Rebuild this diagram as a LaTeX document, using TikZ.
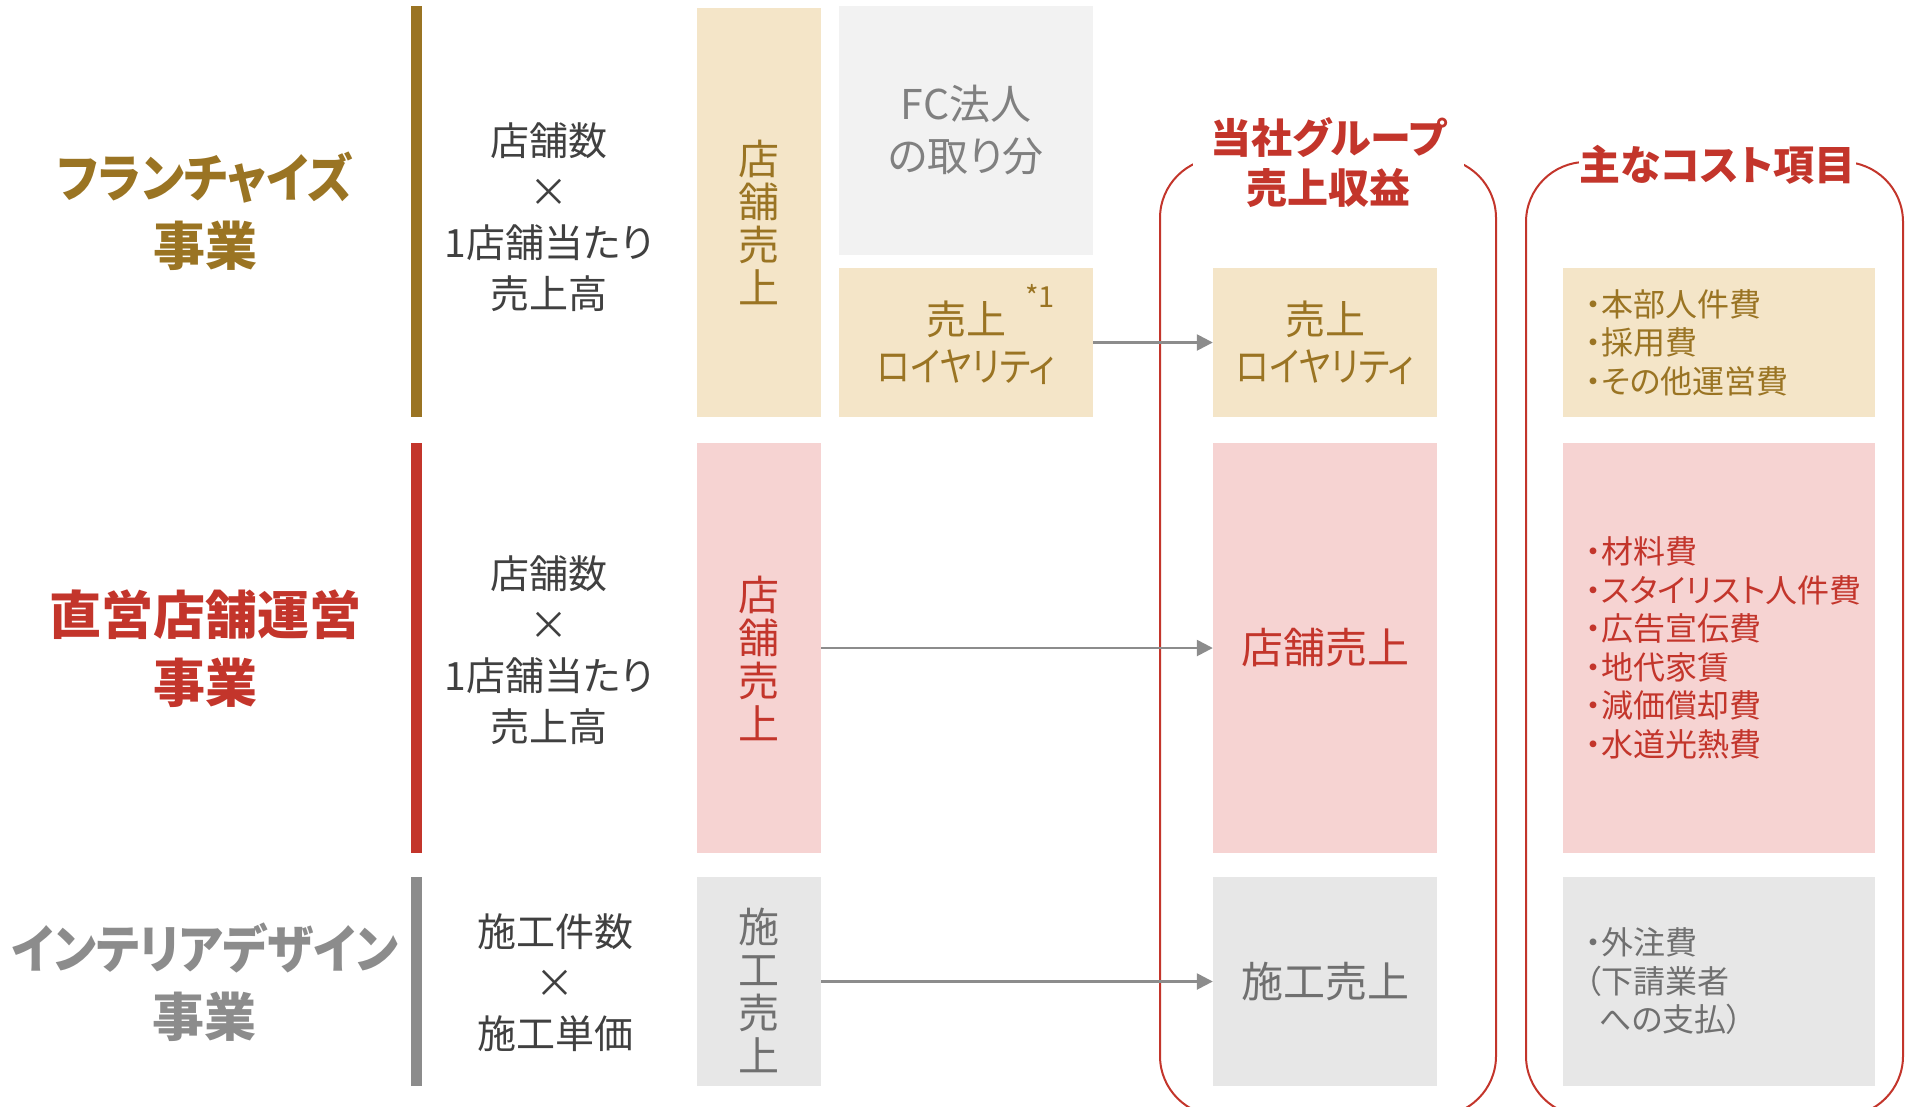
\documentclass[tikz,border=0pt]{standalone}
\usepackage{fontspec}
\setmainfont{Noto Sans CJK JP}[RawFeature=+palt]
\usepackage{tikz}
\usetikzlibrary{arrows.meta, positioning}

\definecolor{fcgold}{HTML}{9A7423}
\definecolor{fcfill}{HTML}{F4E5C8}
\definecolor{dsred}{HTML}{C3352B}
\definecolor{dsfill}{HTML}{F6D3D2}
\definecolor{idgray}{HTML}{8C8C8C}
\definecolor{idfill}{HTML}{E7E7E7}
\definecolor{idtext}{HTML}{707070}
\definecolor{sharefill}{HTML}{F2F2F2}
\definecolor{sharetext}{HTML}{808080}
\definecolor{calctext}{HTML}{404040}

% narrower kana, as in the original face
\newcommand{\kanaw}[2][0.88]{\scalebox{#1}[1]{#2}}

\begin{document}
\begin{tikzpicture}[x=1pt, y=-1pt,
  bizname/.style={font=\bfseries\fontsize{52}{68}\selectfont, align=center},
  formula/.style={font=\fontsize{39}{51}\selectfont, text=calctext, align=center},
  colbox/.style={minimum width=124pt, minimum height=#1, inner sep=0pt},
  coltext/.style={inner sep=0pt, font=\fontsize{41}{43}\selectfont, align=center},
  revbox/.style={minimum width=224pt, minimum height=#1, inner sep=0pt, font=\fontsize{40}{47}\selectfont, align=center},
  costbox/.style={minimum width=312pt, minimum height=#1, text width=268pt, inner xsep=22pt, inner ysep=0pt, align=left, font=\fontsize{32}{38.5}\selectfont},
  revframe/.style={draw=dsred, line width=2pt, rounded corners=60pt},
  revtitle/.style={fill=white, inner sep=0pt, minimum height=40pt, font=\bfseries\fontsize{41}{50}\selectfont, text=dsred, align=center},
  flowarrow/.style={draw=idgray, line width=2.5pt, -{Triangle[length=16pt,width=16pt]}}
]
\useasboundingbox (0,0) rectangle (1913,1106);

% Franchise business
\fill[fcgold] (411,6) rectangle (422,417);
\node[bizname, text=fcgold] (fc) at (205,211) {\kanaw[0.9]{フランチャイズ}\\事業};
\node[formula] (fcformula) at (549,217) {店舗数\\×\\1店舗当たり\\売上高};
\node[colbox=409pt, fill=fcfill] (fcsales) at (759,212.5) {};
\node[coltext, text=fcgold] (fcsalestext) at ([yshift=-10pt]fcsales.center) {店\\舗\\売\\上};
\node[minimum width=254pt, minimum height=249pt, inner sep=0pt, fill=sharefill, text=sharetext,
  font=\fontsize{41}{52}\selectfont, align=center] (fcshare) at (966,130.5) {FC法人\\の取り分};
\node[minimum width=254pt, minimum height=149pt, inner sep=0pt, fill=fcfill, text=fcgold,
  font=\fontsize{40}{47}\selectfont, align=center] (fcroyalty) at (966,342.5) {売上\\\kanaw[0.85]{ロイヤリティ}};
\node[text=fcgold, inner sep=0pt, font=\fontsize{29}{29}\selectfont] (note1) at (1040,296) {*1};

% Directly managed stores
\fill[dsred] (411,443) rectangle (422,853);
\node[bizname, text=dsred] (ds) at (205,649) {直営店舗運営\\事業};
\node[formula] (dsformula) at (549,650) {店舗数\\×\\1店舗当たり\\売上高};
\node[colbox=410pt, fill=dsfill] (dssales) at (759,648) {};
\node[coltext, text=dsred] (dssalestext) at ([yshift=-10pt]dssales.center) {店\\舗\\売\\上};

% Interior design
\fill[idgray] (411,877) rectangle (422,1086);
\node[bizname, text=idgray] (id) at (205,982) {\kanaw[0.9]{インテリアデザイン}\\事業};
\node[formula] (idformula) at (555,983) {施工件数\\×\\施工単価};
\node[colbox=209pt, fill=idfill] (idsales) at (759,981.5) {};
\node[coltext, text=idtext] (idsalestext) at ([yshift=-9pt]idsales.center) {施\\工\\売\\上};

% Group revenue
\draw[revframe] (1160,158) rectangle (1496,1116);
\node[revtitle, minimum width=271pt] (revhead) at (1328.5,163) {当社グループ\\売上収益};
\node[revbox=149pt, fill=fcfill, text=fcgold] (revroyalty) at (1325,342.5) {売上\\\kanaw[0.85]{ロイヤリティ}};
\node[revbox=410pt, fill=dsfill, text=dsred, font=\fontsize{42}{47}\selectfont] (revstore) at (1325,648) {店舗売上};
\node[revbox=209pt, fill=idfill, text=idtext, font=\fontsize{42}{47}\selectfont] (revwork) at (1325,981.5) {施工売上};

% Main cost items
\draw[revframe] (1526,162) rectangle (1903,1116);
\node[revtitle, minimum width=273pt] (costhead) at (1717.5,165) {主なコスト項目};
\node[costbox=149pt, fill=fcfill, text=fcgold] (fccost) at (1719,342.5) {・本部人件費\\・採用費\\・その他運営費};
\node[costbox=410pt, fill=dsfill, text=dsred] (dscost) at (1719,648)
  {・材料費\\・スタイリスト人件費\\・広告宣伝費\\・地代家賃\\・減価償却費\\・水道光熱費};
\node[costbox=209pt, fill=idfill, text=idtext] (idcost) at (1719,981.5)
  {・外注費\\（下請業者\\\hspace{14pt}への支払）};

% Revenue flows
\draw[flowarrow] (fcroyalty.east) -- (revroyalty.west);
\draw[flowarrow] (dssales.east) -- (revstore.west);
\draw[flowarrow] (idsales.east) -- (revwork.west);
\end{tikzpicture}
\end{document}
